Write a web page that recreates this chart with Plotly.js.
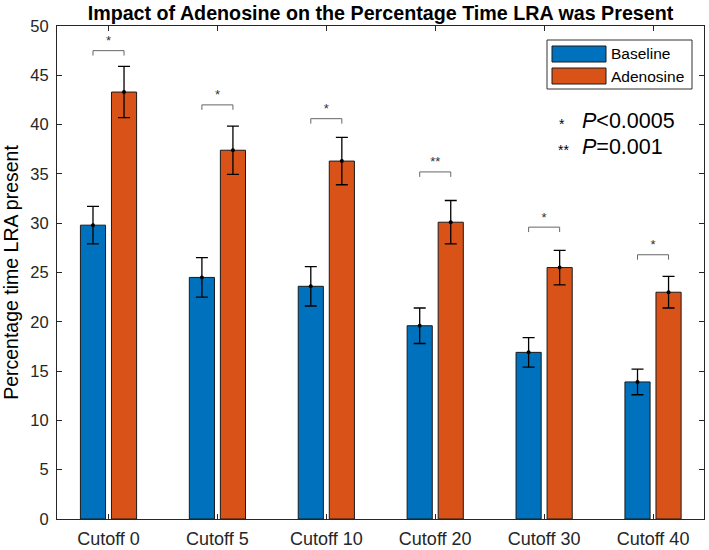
<!DOCTYPE html>
<html><head><meta charset="utf-8">
<script src="https://cdn.plot.ly/plotly-3.0.1.min.js"></script>
<style>body{margin:0;background:#fff}#chart{width:709px;height:550px}</style>
</head><body><div id="chart"></div>
<script>
// ---- data ----
const categories = ['Cutoff 0', 'Cutoff 5', 'Cutoff 10', 'Cutoff 20', 'Cutoff 30', 'Cutoff 40'];
const baseline = [29.8, 24.5, 23.6, 19.6, 16.9, 13.9];
const baselineErr = [1.9, 2.0, 2.0, 1.8, 1.5, 1.3];
const adenosine = [43.3, 37.4, 36.3, 30.1, 25.5, 23.0];
const adenosineErr = [2.6, 2.45, 2.4, 2.2, 1.75, 1.6];
const bracketY = [47.5, 42.0, 40.6, 35.2, 29.6, 26.8];
const sigLabels = ['*', '*', '*', '**', '*', '*'];
const yTickVals = [0, 5, 10, 15, 20, 25, 30, 35, 40, 45, 50];
const seriesNames = ['Baseline', 'Adenosine'];
const pNotes = ['<i>P</i>&lt;0.0005', '<i>P</i>=0.001'];
const pStars = ['*', '**'];

// ---- styling ----
const BLUE = '#0072BD', ORANGE = '#D95319', AXIS = '#262626';
const BARGAP = 0.43, BARGROUPGAP = 0.19;
const xIdx = categories.map((_, i) => i);
const off = (1 - BARGAP) / 4;   // half of one bar slot, in category units
const legDrop = 0.5;

const font = 'Liberation Sans, Arial, Helvetica, sans-serif';

function barTrace(name, vals, errs, color) {
  return {
    type: 'bar', name: name, x: xIdx, y: vals,
    marker: {color: color, line: {color: '#1a1a1a', width: 1}},
    error_y: {type: 'data', array: errs, visible: true, color: '#000', thickness: 1.3, width: 6},
    showlegend: false, hoverinfo: 'x+y'
  };
}
const dots = (vals, sign) => ({
  type: 'scatter', mode: 'markers', x: xIdx.map(i => i + sign * off), y: vals,
  marker: {color: '#000', size: 4}, showlegend: false, hoverinfo: 'skip'
});

const bx = [], by = [];
xIdx.forEach((i, k) => {
  bx.push(i - off, i - off, i + off, i + off, null);
  by.push(bracketY[k] - legDrop, bracketY[k], bracketY[k], bracketY[k] - legDrop, null);
});
const brackets = {type: 'scatter', mode: 'lines', x: bx, y: by,
  line: {color: '#666', width: 1}, showlegend: false, hoverinfo: 'skip'};
const stars = {type: 'scatter', mode: 'text', x: xIdx, y: bracketY.map(v => v + 0.9),
  text: sigLabels, textposition: 'middle center',
  textfont: {family: font, size: 13, color: '#333'}, showlegend: false, hoverinfo: 'skip'};

const data = [
  barTrace(seriesNames[0], baseline, baselineErr, BLUE),
  barTrace(seriesNames[1], adenosine, adenosineErr, ORANGE),
  dots(baseline, -1), dots(adenosine, 1), brackets, stars
];

// legend + notes placed in plot-paper space
const W = 647, H = 493, L = 57, T = 26;
const px = x => (x - L) / W, py = y => 1 - (y - T) / H;
const shapes = [
  {type: 'rect', xref: 'paper', yref: 'paper', x0: px(547), x1: px(692), y0: py(89), y1: py(40),
   line: {color: '#333', width: 1}, fillcolor: '#fff'},
  {type: 'rect', xref: 'paper', yref: 'paper', x0: px(552), x1: px(606), y0: py(62), y1: py(46),
   line: {color: '#1a1a1a', width: 1}, fillcolor: BLUE},
  {type: 'rect', xref: 'paper', yref: 'paper', x0: px(552), x1: px(606), y0: py(84), y1: py(68),
   line: {color: '#1a1a1a', width: 1}, fillcolor: ORANGE}
];
const annotations = [
  {xref: 'paper', yref: 'paper', x: px(609), y: py(54), xanchor: 'left', yanchor: 'middle',
   text: seriesNames[0], showarrow: false, font: {family: font, size: 15.5, color: '#000'}},
  {xref: 'paper', yref: 'paper', x: px(609), y: py(76), xanchor: 'left', yanchor: 'middle',
   text: seriesNames[1], showarrow: false, font: {family: font, size: 15.5, color: '#000'}},
  {xref: 'paper', yref: 'paper', x: px(557), y: py(124), xanchor: 'left', yanchor: 'middle',
   text: pStars[0], showarrow: false, font: {family: font, size: 14, color: '#000'}},
  {xref: 'paper', yref: 'paper', x: px(580), y: py(121), xanchor: 'left', yanchor: 'middle',
   text: pNotes[0], showarrow: false, font: {family: font, size: 21.5, color: '#000'}},
  {xref: 'paper', yref: 'paper', x: px(556), y: py(150), xanchor: 'left', yanchor: 'middle',
   text: pStars[1], showarrow: false, font: {family: font, size: 14, color: '#000'}},
  {xref: 'paper', yref: 'paper', x: px(580), y: py(147), xanchor: 'left', yanchor: 'middle',
   text: pNotes[1], showarrow: false, font: {family: font, size: 21.5, color: '#000'}}
];

const layout = {
  width: 709, height: 550,
  margin: {l: 57, r: 5, t: 26, b: 31, pad: 0},
  paper_bgcolor: '#fff', plot_bgcolor: '#fff',
  font: {family: font, color: AXIS},
  title: {text: '<b>Impact of Adenosine on the Percentage Time LRA was Present</b>',
    font: {family: font, size: 19.7, color: '#000'},
    x: 0.5, xref: 'paper', y: 1 - 13 / 550, yref: 'container', yanchor: 'middle'},
  barmode: 'group', bargap: BARGAP, bargroupgap: BARGROUPGAP,
  showlegend: false,
  xaxis: {range: [-0.473, 5.468], tickvals: xIdx, ticktext: categories,
    ticks: 'inside', ticklen: 5, tickcolor: AXIS, showline: true, linecolor: AXIS, linewidth: 1,
    mirror: 'ticks', showgrid: false, zeroline: false, fixedrange: true, ticklabelstandoff: 3,
    tickfont: {family: font, size: 18, color: AXIS}},
  yaxis: {range: [0, 50], tickvals: yTickVals,
    ticks: 'inside', ticklen: 5, tickcolor: AXIS, showline: true, linecolor: AXIS, linewidth: 1,
    mirror: 'ticks', showgrid: false, zeroline: false, fixedrange: true, ticklabelstandoff: 4,
    tickfont: {family: font, size: 16.5, color: AXIS},
    title: {text: 'Percentage time LRA present', font: {family: font, size: 19.5, color: '#000'}, standoff: 12}},
  shapes: shapes, annotations: annotations
};

Plotly.newPlot('chart', data, layout, {displayModeBar: false, staticPlot: true});
</script>
</body></html>
